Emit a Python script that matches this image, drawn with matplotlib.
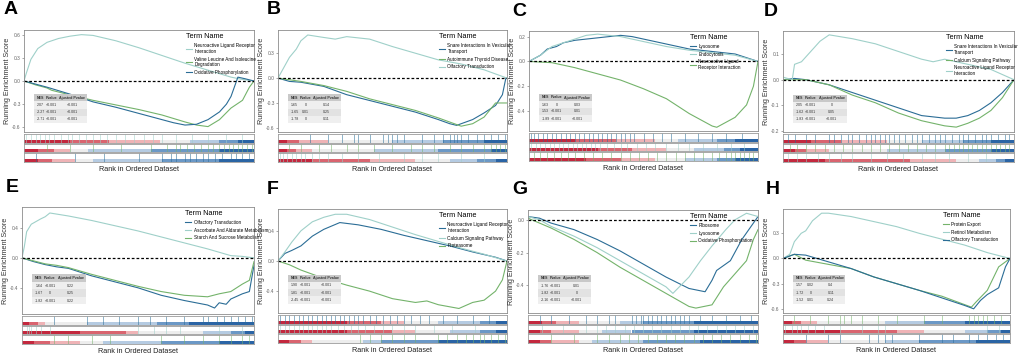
import matplotlib

matplotlib.use("Agg")
import matplotlib.pyplot as plt
from matplotlib.patches import Rectangle

plt.rcParams["font.family"] = ["Liberation Sans", "DejaVu Sans"]

# ---------------------------------------------------------------- data
# curves: (x as fraction of ranked list, running enrichment score)
A_TERMS = ["Neuroactive Ligand Receptor\nInteraction", "Valine Leucine And Isoleucine\nDegradation", "Oxidative Phosphorylation"]
A_TABLE = [["2.07", "<0.001", "<0.001"], ["-2.27", "<0.001", "<0.001"], ["-2.71", "<0.001", "<0.001"]]
A_CURVES = [
    ([0, .01, .03, .06, .1, .15, .2, .25, .3, .4, .5, .6, .7, .8, .9, .95, 1],
     [0, .1, .28, .42, .5, .55, .58, .6, .59, .52, .43, .33, .23, .14, .05, .02, 0]),
    ([0, .05, .1, .12, .2, .3, .4, .5, .6, .7, .75, .8, .85, .9, .95, .98, 1],
     [0, -.05, -.09, -.12, -.18, -.25, -.31, -.37, -.44, -.53, -.57, -.59, -.5, -.35, -.25, -.08, 0]),
    ([0, .05, .1, .2, .3, .4, .5, .6, .65, .7, .75, .8, .85, .88, .9, .93, .96, 1],
     [0, -.04, -.08, -.17, -.27, -.34, -.42, -.5, -.54, -.57, -.56, -.5, -.4, -.3, -.2, .05, .03, 0]),
]
A_HITS = [
    [.01, .03, .05, .07, .09, .11, .13, .16, .19, .21, .24, .27, .3, .33, .36, .4, .44, .48, .52, .56, .6, .66, .73, .8, .88, .95],
    [.1, .2, .3, .42, .55, .62, .66, .68, .71, .74, .77, .8, .82, .85, .87, .89, .91, .93, .95, .97, .99],
    [.05, .22, .35, .5, .6, .64, .66, .7, .72, .75, .78, .8, .83, .86, .9, .92, .95, .98],
]
A_BANDS = [[.2, .37, .59, .72, .85, .93], [.06, .13, .2, .28, .55, .85], [.06, .12, .22, .3, .6, .85]]
A_YTICKS = [-0.6, -0.3, 0.0, 0.3, 0.6]

B_TERMS = ["Snare Interactions In Vesicular\nTransport", "Autoimmune Thyroid Disease", "Olfactory Transduction"]
B_TABLE = [["1.65", "0", "0.14"], ["-1.65", "0.01", "0.25"], ["-1.78", "0", "0.11"]]
B_CURVES = [
    ([0, .05, .1, .2, .3, .4, .5, .6, .7, .75, .78, .85, .9, .95, .98, .995, 1],
     [0, -.04, -.05, -.1, -.2, -.27, -.34, -.41, -.5, -.55, -.57, -.5, -.42, -.33, -.2, 0, 0]),
    ([0, .1, .2, .3, .4, .5, .6, .7, .78, .8, .85, .9, .95, 1],
     [0, -.04, -.09, -.16, -.25, -.32, -.39, -.48, -.56, -.58, -.55, -.47, -.3, -.3]),
    ([0, .02, .05, .08, .1, .13, .2, .25, .3, .4, .5, .6, .7, .8, .9, 1],
     [0, .1, .25, .35, .45, .52, .49, .47, .5, .47, .38, .3, .22, .17, .1, 0]),
]
B_HITS = [
    [.14, .22, .28, .33, .35, .4, .46, .48, .5, .52, .55, .63, .68, .72, .75, .77, .78, .8, .83, .87, .9, .93, .96, .99],
    [.05, .1, .18, .23, .3, .35, .42, .5, .58, .63, .68, .75, .8, .85, .9, .93, .95, .97, .99],
    [.01, .02, .04, .06, .08, .1, .12, .15, .18, .22, .28, .35, .44, .55, .63, .7, .8, .9],
]
B_BANDS = [[.04, .09, .22, .5, .72, .9], [.04, .08, .15, .42, .7, .93], [.15, .4, .6, .75, .87, .95]]
B_YTICKS = [-0.6, -0.3, 0.0, 0.3]

C_TERMS = ["Lysosome", "Endocytosis", "Neuroactive Ligand\nReceptor Interaction"]
C_TABLE = [["1.63", "0", "0.03"], ["1.53", "<0.001", "0.01"], ["-1.89", "<0.001", "<0.001"]]
C_CURVES = [
    ([0, .02, .05, .08, .12, .15, .2, .25, .3, .35, .4, .45, .5, .6, .7, .8, .9, .95, 1],
     [0, .02, .05, .1, .12, .15, .17, .18, .19, .2, .21, .2, .18, .14, .1, .08, .06, .03, 0]),
    ([0, .05, .1, .15, .2, .25, .3, .4, .5, .6, .7, .8, .9, 1],
     [0, .05, .12, .15, .18, .21, .22, .2, .16, .12, .09, .07, .05, 0]),
    ([0, .1, .2, .3, .4, .5, .6, .7, .8, .82, .9, .95, .98, 1],
     [0, -.01, -.05, -.1, -.15, -.22, -.3, -.42, -.52, -.53, -.45, -.35, -.2, 0]),
]
C_HITS = [
    [.01, .02, .04, .06, .08, .1, .12, .14, .16, .18, .2, .22, .24, .26, .28, .3, .32, .34, .36, .38, .4, .42, .44, .46, .5, .54, .58, .62, .68, .74, .8, .86, .93],
    [.01, .03, .05, .07, .09, .11, .13, .15, .17, .19, .21, .23, .25, .27, .29, .31, .34, .37, .4, .43, .47, .51, .55, .6, .65, .7, .76, .82, .88, .94],
    [.02, .05, .08, .11, .14, .17, .2, .24, .28, .32, .36, .4, .44, .48, .52, .56, .6, .64, .68, .72, .76, .8, .83, .86, .88, .9, .92, .94, .96, .98],
]
C_BANDS = [[.2, .38, .55, .65, .82, .9], [.3, .45, .6, .72, .85, .92], [.25, .4, .55, .68, .82, .9]]
C_YTICKS = [-0.4, -0.2, 0.0, 0.2]

D_TERMS = ["Snare Interactions In Vesicular\nTransport", "Calcium Signaling Pathway", "Neuroactive Ligand Receptor\nInteraction"]
D_TABLE = [["2.05", "<0.001", "0"], ["-1.62", "<0.001", "0.05"], ["-1.83", "<0.001", "<0.001"]]
D_CURVES = [
    ([0, .05, .1, .2, .3, .4, .5, .6, .7, .75, .8, .85, .9, .95, 1],
     [0, .005, 0, -.02, -.05, -.08, -.11, -.14, -.15, -.15, -.14, -.12, -.09, -.05, 0]),
    ([0, .1, .2, .3, .4, .5, .6, .7, .75, .8, .85, .9, .95, 1],
     [0, 0, -.02, -.06, -.09, -.13, -.16, -.18, -.185, -.17, -.15, -.12, -.07, 0]),
    ([0, .04, .05, .08, .1, .13, .16, .2, .3, .4, .5, .6, .65, .7, .8, .9, 1],
     [.01, 0, .06, .07, .09, .12, .15, .175, .16, .14, .11, .08, .07, .08, .06, .04, 0]),
]
D_HITS = [
    [.02, .05, .1, .14, .2, .22, .25, .28, .3, .33, .36, .38, .4, .42, .44, .46, .48, .5, .53, .56, .58, .6, .63, .66, .68, .7, .73, .76, .78, .8, .83, .86, .88, .9, .93, .96, .98],
    [.03, .06, .1, .14, .18, .22, .26, .3, .34, .38, .42, .46, .5, .54, .58, .62, .66, .7, .72, .74, .76, .78, .8, .82, .84, .86, .88, .9, .92, .94, .96, .98],
    [.02, .06, .1, .15, .2, .25, .3, .38, .45, .52, .6, .66, .72, .8, .88],
]
D_BANDS = [[.12, .25, .45, .6, .78, .9], [.05, .1, .2, .45, .7, .9], [.18, .55, .75, .85, .92, .96]]
D_YTICKS = [-0.2, -0.1, 0.0, 0.1]

E_TERMS = ["Olfactory Transduction", "Ascorbate And Aldarate Metabolism", "Starch And Sucrose Metabolism"]
E_TABLE = [["1.64", "<0.001", "0.22"], ["-1.67", "0", "0.25"], ["-1.82", "<0.001", "0.22"]]
E_CURVES = [
    ([0, .05, .1, .15, .2, .3, .4, .5, .6, .7, .8, .83, .85, .88, .9, .95, .98, 1],
     [0, -.05, -.09, -.12, -.14, -.24, -.32, -.4, -.5, -.57, -.63, -.67, -.6, -.62, -.55, -.48, -.45, -.1]),
    ([0, .01, .02, .04, .08, .1, .12, .2, .3, .4, .5, .6, .7, .8, .9, .95, 1],
     [0, .15, .35, .45, .52, .55, .6, .56, .5, .43, .36, .28, .2, .12, .03, .02, 0]),
    ([0, .05, .1, .15, .2, .3, .4, .5, .6, .7, .8, .85, .9, .95, .98, 1],
     [0, -.04, -.08, -.1, -.13, -.22, -.3, -.38, -.45, -.5, -.52, -.48, -.45, -.35, -.3, -.05]),
]
E_HITS = [
    [.14, .28, .35, .42, .5, .55, .62, .7, .78, .8, .84, .87, .9, .93, .96, .99],
    [.02, .03, .04, .06, .08, .12, .5, .57, .62, .68, .85, .95],
    [.14, .2, .3, .38, .6, .7, .78, .85, .9, .95, .98],
]
E_BANDS = [[.03, .07, .1, .28, .58, .72], [.25, .45, .5, .78, .9, .96], [.05, .12, .25, .35, .6, .85]]
E_YTICKS = [-0.4, 0.0, 0.4]

F_TERMS = ["Neuroactive Ligand Receptor\nInteraction", "Calcium Signaling Pathway", "Proteasome"]
F_TABLE = [["1.90", "<0.001", "<0.001"], ["1.81", "<0.001", "<0.001"], ["-2.45", "<0.001", "<0.001"]]
F_CURVES = [
    ([0, .03, .06, .1, .15, .2, .27, .35, .45, .55, .65, .75, .85, .95, 1],
     [0, .1, .14, .2, .33, .42, .51, .48, .42, .34, .27, .2, .12, .05, 0]),
    ([0, .03, .06, .1, .15, .2, .25, .3, .4, .5, .6, .7, .8, .9, 1],
     [0, .12, .25, .4, .52, .58, .62, .62, .55, .45, .35, .26, .17, .09, 0]),
    ([0, .05, .1, .2, .3, .4, .5, .6, .65, .7, .79, .85, .9, .95, .98, 1],
     [0, -.05, -.12, -.23, -.32, -.4, -.5, -.55, -.53, -.58, -.63, -.55, -.52, -.4, -.25, 0]),
]
F_HITS = [
    [.01, .03, .05, .07, .09, .11, .13, .15, .17, .19, .21, .23, .25, .27, .29, .31, .33, .35, .37, .4, .43, .46, .49, .52, .55, .58, .62, .66, .72, .78, .85, .92],
    [.01, .03, .05, .07, .09, .11, .13, .15, .17, .19, .21, .23, .26, .29, .32, .35, .38, .42, .46, .5, .55, .6, .68, .76, .86],
    [.36, .4, .45, .5, .55, .6, .7, .74, .78, .82, .85, .88, .9, .93, .96, .99],
]
F_BANDS = [[.3, .45, .55, .7, .88, .95], [.3, .5, .6, .75, .88, .95], [.05, .1, .15, .37, .45, .7]]
F_YTICKS = [-0.4, 0.0, 0.4]

G_TERMS = ["Ribosome", "Lysosome", "Oxidative Phosphorylation"]
G_TABLE = [["-1.76", "<0.001", "0.01"], ["-1.82", "<0.001", "0"], ["-2.16", "<0.001", "<0.001"]]
G_CURVES = [
    ([0, .05, .1, .2, .3, .4, .5, .6, .7, .77, .8, .82, .88, .93, .97, 1],
     [.02, .01, -.02, -.06, -.12, -.19, -.27, -.35, -.42, -.44, -.37, -.31, -.25, -.12, -.04, .02]),
    ([0, .05, .1, .2, .3, .4, .5, .6, .63, .7, .75, .8, .86, .9, .95, 1],
     [.02, 0, -.04, -.1, -.17, -.25, -.33, -.41, -.45, -.35, -.25, -.16, -.06, 0, .04, .02]),
    ([0, .1, .2, .3, .4, .5, .6, .7, .73, .8, .85, .9, .95, .98, 1],
     [.01, -.05, -.12, -.2, -.29, -.37, -.45, -.53, -.54, -.52, -.41, -.33, -.25, -.12, -.06]),
]
G_HITS = [
    [.05, .1, .18, .25, .3, .35, .38, .45, .47, .49, .5, .52, .54, .56, .58, .6, .62, .64, .66, .68, .7, .75, .8, .86, .92, .97],
    [.06, .15, .25, .3, .34, .38, .42, .46, .5, .54, .58, .62, .66, .7, .74, .78, .82, .86, .9, .94, .98],
    [.1, .2, .3, .35, .4, .44, .48, .52, .56, .6, .64, .68, .72, .76, .8, .84, .88, .92, .96, .99],
]
G_BANDS = [[.06, .12, .22, .4, .5, .72], [.05, .1, .22, .32, .45, .72], [.05, .1, .22, .28, .5, .75]]
G_YTICKS = [-0.4, -0.2, 0.0]

H_TERMS = ["Protein Export", "Retinol Metabolism", "Olfactory Transduction"]
H_TABLE = [["1.57", "0.02", "0.4"], ["-1.72", "0", "0.11"], ["-1.52", "0.01", "0.24"]]
H_CURVES = [
    ([0, .05, .1, .2, .3, .4, .5, .6, .7, .8, .83, .85, .9, .95, 1],
     [0, .05, -.02, -.07, -.12, -.22, -.3, -.38, -.45, -.55, -.58, -.52, -.38, -.1, 0]),
    ([0, .03, .05, .08, .1, .13, .17, .2, .3, .4, .5, .6, .7, .8, .9, 1],
     [0, .05, .2, .3, .33, .45, .54, .54, .5, .44, .38, .3, .23, .16, .07, 0]),
    ([0, .05, .1, .2, .3, .4, .5, .6, .7, .8, .84, .87, .9, .95, .98, 1],
     [0, .05, .04, -.04, -.12, -.22, -.3, -.38, -.47, -.56, -.6, -.5, -.43, -.35, -.1, 0]),
]
H_HITS = [
    [.05, .12, .2, .25, .27, .3, .35, .42, .5, .62, .7, .82, .84, .86, .88, .9, .93, .96],
    [.01, .04, .06, .08, .11, .14, .18, .25, .35, .42, .45, .9, .95],
    [.1, .2, .25, .38, .42, .45, .48, .6, .7, .75, .82, .86, .9, .94, .97],
]
H_BANDS = [[.04, .08, .15, .45, .62, .8], [.25, .5, .62, .8, .9, .96], [.05, .1, .2, .45, .6, .85]]
H_YTICKS = [-0.6, -0.3, 0.0, 0.3]

TABLE_HEADER = ["NES", "Pvalue", "Ajusted Pvalue"]

# ---------------------------------------------------------------- style
W, H = 1020, 361
LIGHT, GREEN, BLUE = "#9fd0c9", "#74b36b", "#2b6d96"
BAND_COLORS = ["#c3283e", "#d9646f", "#efb3b6", "#ededed", "#b5cbe2", "#6b98c6", "#2a64a5"]

PANELS = [
    # letter, es box (l, t, r, b) px, letter x px, ylim, colours, data
    ("A", (24, 30, 254, 132), 4, (-0.66, 0.66), [LIGHT, GREEN, BLUE], A_TERMS, A_TABLE, A_CURVES, A_HITS, A_BANDS, A_YTICKS),
    ("B", (278, 30, 507, 132), 267, (-0.65, 0.58), [BLUE, GREEN, LIGHT], B_TERMS, B_TABLE, B_CURVES, B_HITS, B_BANDS, B_YTICKS),
    ("C", (529, 31, 758, 131), 512, (-0.56, 0.245), [BLUE, LIGHT, GREEN], C_TERMS, C_TABLE, C_CURVES, C_HITS, C_BANDS, C_YTICKS),
    ("D", (783, 31, 1014, 132), 764, (-0.204, 0.19), [BLUE, GREEN, LIGHT], D_TERMS, D_TABLE, D_CURVES, D_HITS, D_BANDS, D_YTICKS),
    ("E", (22, 207, 254, 314), 6, (-0.75, 0.68), [BLUE, LIGHT, GREEN], E_TERMS, E_TABLE, E_CURVES, E_HITS, E_BANDS, E_YTICKS),
    ("F", (278, 209, 507, 313), 267, (-0.69, 0.69), [BLUE, LIGHT, GREEN], F_TERMS, F_TABLE, F_CURVES, F_HITS, F_BANDS, F_YTICKS),
    ("G", (528, 210, 758, 313), 512, (-0.57, 0.06), [BLUE, LIGHT, GREEN], G_TERMS, G_TABLE, G_CURVES, G_HITS, G_BANDS, G_YTICKS),
    ("H", (783, 209, 1010, 313), 766, (-0.65, 0.59), [GREEN, LIGHT, BLUE], H_TERMS, H_TABLE, H_CURVES, H_HITS, H_BANDS, H_YTICKS),
]


def box(l, t, r, b):
    return [l / W, 1 - b / H, (r - l) / W, (b - t) / H]


def draw_table(ax, rows):
    x0, x1, y0, y1 = 0.045, 0.275, 0.09, 0.37
    n = len(rows) + 1
    rh = (y1 - y0) / n
    cols = [0.12, 0.33, 0.72]
    fills = ["#c9c9c9", "#efefef", "#e2e2e2", "#efefef"]
    for i, cells in enumerate([TABLE_HEADER] + rows):
        top = y1 - i * rh
        ax.add_patch(Rectangle((x0, top - rh), x1 - x0, rh, transform=ax.transAxes,
                               facecolor=fills[i], edgecolor="none", zorder=4))
        for c, txt in zip(cols, cells):
            ax.text(x0 + c * (x1 - x0), top - rh / 2, txt, transform=ax.transAxes,
                    ha="center", va="center", fontsize=2.6, color="#333333",
                    fontweight="bold" if i == 0 else "normal", zorder=5)


fig = plt.figure(figsize=(W / 100, H / 100), dpi=100)
fig.patch.set_facecolor("white")

for letter, (l, t, r, b), lx, ylim, colors, terms, table, curves, hits, bands, yticks in PANELS:
    ax = fig.add_axes(box(l, t, r, b))
    for (xs, ys), col, term in zip(curves, colors, terms):
        ax.plot(xs, ys, color=col, linewidth=0.8, label=term)
    ax.axhline(0, color="black", linestyle=(0, (2.2, 1.6)), linewidth=0.9)
    ax.set_xlim(0, 1)
    ax.set_ylim(*ylim)
    ax.set_xticks([])
    ax.set_yticks(yticks)
    ax.set_yticklabels([f"{v:.1f}" for v in yticks])
    ax.tick_params(axis="y", labelsize=3.5, colors="#666666", length=1.2, width=0.4, pad=1.2)
    for sp in ax.spines.values():
        sp.set_color("#8c8c8c")
        sp.set_linewidth(0.6)
    leg = ax.legend(loc="upper left", bbox_to_anchor=(0.69, 1.0), frameon=False,
                    title="Term Name", fontsize=3.3, title_fontsize=5.2,
                    handlelength=1.3, handletextpad=0.5, labelspacing=0.6, borderaxespad=0.3)
    leg._legend_box.align = "left"
    draw_table(ax, table)
    fig.text((l - 16.5) / W, 1 - (t + b) / 2 / H, "Running Enrichment Score", rotation=90,
             ha="center", va="center", fontsize=5.2, color="#333333")
    fig.text(lx / W, 1 - 11 / H - (t - 31) / H, letter, fontsize=14, fontweight="bold",
             ha="left", va="center")

    # gene hit stripes with ranked-list colour band
    s_top = b + 2
    s_h = 8.6
    for k in range(3):
        st = s_top + k * (s_h + 1)
        sax = fig.add_axes(box(l, st, r, st + s_h))
        edges = [0] + bands[k] + [1]
        for j in range(7):
            sax.axhspan(0, 0.32, xmin=edges[j], xmax=edges[j + 1], color=BAND_COLORS[j], linewidth=0)
        sax.vlines(hits[k], 0, 1, color=colors[k], linewidth=0.5, alpha=0.75)
        sax.set_xlim(0, 1)
        sax.set_ylim(0, 1)
        sax.set_xticks([])
        sax.set_yticks([])
        for sp in sax.spines.values():
            sp.set_color("#9a9a9a")
            sp.set_linewidth(0.6)
    fig.text((l + r) / 2 / W, 1 - (s_top + 3 * s_h + 2 + 8) / H, "Rank in Ordered Dataset",
             ha="center", va="center", fontsize=5.2, color="#222222")

fig.savefig("out.png", dpi=100)
